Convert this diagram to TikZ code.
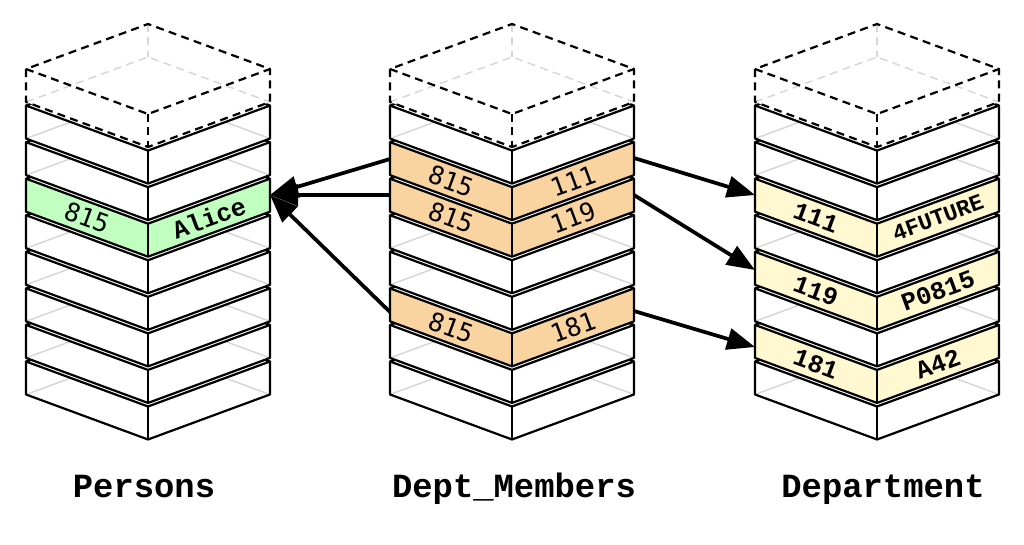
\documentclass[tikz,border=0pt]{standalone}
\usepackage{fontspec}
\newfontfamily\courfont{Liberation Mono}
\newfontfamily\dejafont{DejaVu Sans Mono}
\usetikzlibrary{arrows.meta}
\definecolor{pgreen}{RGB}{192,255,192}
\definecolor{porange}{RGB}{250,212,160}
\definecolor{pyellow}{RGB}{255,248,208}
\definecolor{hidgray}{RGB}{215,215,215}
\tikzset{
 edge/.style={line width=1.65pt, line join=round, black},
 dashedge/.style={edge, dash pattern=on 6pt off 4pt},
 hid/.style={draw=hidgray, line width=1.1pt},
 nohid/.style={draw=none},
 hiddash/.style={hid, dash pattern=on 6pt off 4pt},
 arr/.style={line width=2.8pt, -{Triangle[length=21pt,width=16pt]}},
 lbld/.style={font=\dejafont\fontsize{19}{19}\selectfont, inner sep=0pt},
 lblc/.style={font=\courfont\bfseries\fontsize{19}{19}\selectfont, inner sep=0pt},
 lblcs/.style={font=\courfont\bfseries\fontsize{17}{17}\selectfont, inner sep=0pt},
 ttl/.style={font=\courfont\bfseries\fontsize{25.4}{26}\selectfont, inner sep=0pt, anchor=base},
}
\newcommand{\myslab}[4]{%
  \pgfmathsetmacro{\yt}{69+36.56*#2}%
  \fill[#3] (#1-122,\yt) -- (#1,\yt+45) -- (#1+122,\yt) -- (#1+122,\yt+33) -- (#1,\yt+78) -- (#1-122,\yt+33) -- cycle;
  \draw[#4] (#1-122,\yt+33) -- (#1,\yt-12) -- (#1+122,\yt+33);
  \fill[white] (#1-122,\yt) -- (#1,\yt+45) -- (#1+122,\yt) -- (#1,\yt-45) -- cycle;
  \draw[edge] (#1-122,\yt) -- (#1,\yt+45) -- (#1+122,\yt) -- (#1,\yt-45) -- cycle;
  \draw[edge] (#1-122,\yt) -- (#1-122,\yt+33) -- (#1,\yt+78) -- (#1+122,\yt+33) -- (#1+122,\yt);
  \draw[edge] (#1,\yt+45) -- (#1,\yt+78);
}
\newcommand{\mytop}[1]{%
  \fill[white] (#1-122,69) -- (#1,24) -- (#1+122,69) -- (#1+122,102) -- (#1,147) -- (#1-122,102) -- cycle;
  \draw[hiddash] (#1,24) -- (#1,57);
  \draw[hiddash] (#1-122,102) -- (#1,57) -- (#1+122,102);
  \draw[dashedge] (#1-122,69) -- (#1,114) -- (#1+122,69) -- (#1,24) -- cycle;
  \draw[dashedge] (#1-122,69) -- (#1-122,102) -- (#1,147) -- (#1+122,102) -- (#1+122,69);
  \draw[dashedge] (#1,114) -- (#1,147);
}
\begin{document}
\begin{tikzpicture}[x=0.75pt,y=-0.75pt]
\useasboundingbox (0,0) rectangle (1024,544);
\fill[white] (0,0) rectangle (1024,544);
% Persons
\myslab{148}{8}{white}{hid}
\myslab{148}{7}{white}{hid}
\myslab{148}{6}{white}{hid}
\myslab{148}{5}{white}{hid}
\myslab{148}{4}{white}{hid}
\myslab{148}{3}{pgreen}{nohid}
\myslab{148}{2}{white}{hid}
\myslab{148}{1}{white}{hid}
\mytop{148}
% Dept_Members
\myslab{512}{8}{white}{hid}
\myslab{512}{7}{white}{hid}
\myslab{512}{6}{porange}{nohid}
\myslab{512}{5}{white}{hid}
\myslab{512}{4}{white}{hid}
\myslab{512}{3}{porange}{nohid}
\myslab{512}{2}{porange}{nohid}
\myslab{512}{1}{white}{hid}
\mytop{512}
% Department
\myslab{877}{8}{white}{hid}
\myslab{877}{7}{pyellow}{nohid}
\myslab{877}{6}{white}{hid}
\myslab{877}{5}{pyellow}{nohid}
\myslab{877}{4}{white}{hid}
\myslab{877}{3}{pyellow}{nohid}
\myslab{877}{2}{white}{hid}
\myslab{877}{1}{white}{hid}
\mytop{877}
% labels
\node[lbld, rotate=-20.25] (pa) at (87,217.7) {815};
\node[lblc, rotate=20.25] (pb) at (209,217.7) {Alice};
\node[lbld, rotate=-20.25] (ma) at (451,181.1) {815};
\node[lbld, rotate=20.25] (mb) at (573,181.1) {111};
\node[lbld, rotate=-20.25] (mc) at (451,217.7) {815};
\node[lbld, rotate=20.25] (md) at (573,217.7) {119};
\node[lbld, rotate=-20.25] (me) at (451,327.4) {815};
\node[lbld, rotate=20.25] (mf) at (573,327.4) {181};
\node[lblc, rotate=-20.25] (da) at (816,217.7) {111};
\node[lblcs, rotate=20.25] (db) at (938,217.7) {4FUTURE};
\node[lblc, rotate=-20.25] (dc) at (816,290.8) {119};
\node[lblc, rotate=20.25] (dd) at (938,290.8) {P0815};
\node[lblc, rotate=-20.25] (de) at (816,363.9) {181};
\node[lblc, rotate=20.25] (df) at (938,363.9) {A42};
% titles
\node[ttl] (tp) at (144,497) {Persons};
\node[ttl] (tm) at (514,497) {Dept\_Members};
\node[ttl] (td) at (883,497) {Department};
% connector ends
\coordinate (P3R) at (270,195);
\coordinate (M2L) at (390,159);
\coordinate (M3L) at (390,195);
\coordinate (M6L) at (390,312);
\coordinate (M2R) at (634,158);
\coordinate (M3R) at (634,195);
\coordinate (M6R) at (634,311);
\coordinate (D3L) at (755,195);
\coordinate (D5L) at (755,270);
\coordinate (D7L) at (755,347);
\draw[arr] (M2L) -- (P3R);
\draw[arr] (M3L) -- (P3R);
\draw[arr] (M6L) -- (P3R);
\draw[arr] (M2R) -- (D3L);
\draw[arr] (M3R) -- (D5L);
\draw[arr] (M6R) -- (D7L);
\end{tikzpicture}
\end{document}
